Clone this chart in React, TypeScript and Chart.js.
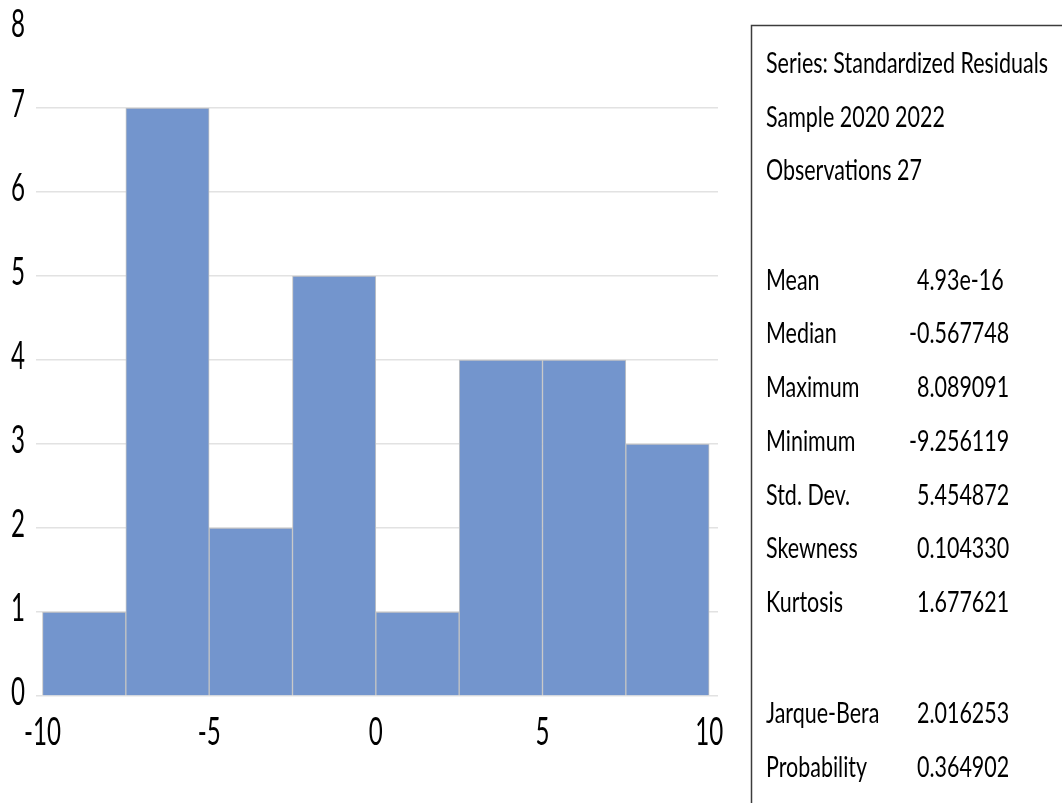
import React, { useEffect, useRef } from "react";
import { Chart, registerables } from "chart.js";

Chart.register(...registerables);

// Histogram bins (centres of 2.5-wide bins) and counts
const binCenters = [-8.75, -6.25, -3.75, -1.25, 1.25, 3.75, 6.25, 8.75];
const binCounts = [1, 7, 2, 5, 1, 4, 4, 3];
const xTickValues = [-10, -5, 0, 5, 10];
const yTickValues = [0, 1, 2, 3, 4, 5, 6, 7, 8];

// Statistics panel
const headerLines = ["Series: Standardized Residuals", "Sample 2020 2022", "Observations 27"];
const statLabels = ["Mean", "Median", "Maximum", "Minimum", "Std. Dev.", "Skewness", "Kurtosis"];
const statValues = ["4.93e-16", "-0.567748", "8.089091", "-9.256119", "5.454872", "0.104330", "1.677621"];
const testLabels = ["Jarque-Bera", "Probability"];
const testValues = ["2.016253", "0.364902"];

const FONT = "Lato, 'Open Sans', sans-serif";

function drawCond(
  ctx: CanvasRenderingContext2D,
  text: string,
  x: number,
  y: number,
  size: number,
  align: CanvasTextAlign,
  sx: number
) {
  ctx.save();
  ctx.font = `${size}px ${FONT}`;
  ctx.fillStyle = "#000";
  ctx.translate(x, y);
  ctx.scale(sx, 1);
  ctx.textAlign = align;
  ctx.textBaseline = "alphabetic";
  ctx.fillText(text, 0, 0);
  ctx.restore();
}

function drawValue(ctx: CanvasRenderingContext2D, v: string, x: number, y: number, size: number, sx: number) {
  if (v.startsWith("-")) {
    drawCond(ctx, "-", x, y, size, "right", sx);
    drawCond(ctx, v.slice(1), x, y, size, "left", sx);
  } else {
    drawCond(ctx, v, x, y, size, "left", sx);
  }
}

const textPlugin = {
  id: "textPlugin",
  afterDraw(chart: any) {
    const ctx: CanvasRenderingContext2D = chart.ctx;
    const xs = chart.scales.x;
    const ys = chart.scales.y;

    // tick labels
    const tickSize = 38;
    ctx.save();
    ctx.font = `${tickSize}px ${FONT}`;
    const tsx = 37 / ctx.measureText("-10").width;
    ctx.restore();
    yTickValues.forEach((v) => {
      const py = ys.getPixelForValue(v);
      drawCond(ctx, String(v), 18, Math.max(py + 9, 37), tickSize, "center", tsx);
    });
    xTickValues.forEach((v) => {
      const px = xs.getPixelForValue(v);
      drawCond(ctx, String(v), px, 745, tickSize, "center", tsx);
    });

    // stats box
    ctx.save();
    ctx.strokeStyle = "#3c3c3c";
    ctx.lineWidth = 1.5;
    ctx.strokeRect(751.5, 25.5, 400, 900);
    ctx.restore();

    const size = 29;
    ctx.save();
    ctx.font = `${size}px ${FONT}`;
    const ssx = 282 / ctx.measureText(headerLines[0]).width;
    ctx.restore();
    const headerBase = [73, 127, 180];
    headerLines.forEach((t, i) => drawCond(ctx, t, 766, headerBase[i], size, "left", ssx));
    const statBase = [290, 343, 397, 451, 505, 558, 612];
    statLabels.forEach((t, i) => {
      drawCond(ctx, t, 766, statBase[i], size, "left", ssx);
      drawValue(ctx, statValues[i], 917, statBase[i], size, ssx);
    });
    const testBase = [723, 777];
    testLabels.forEach((t, i) => {
      drawCond(ctx, t, 766, testBase[i], size, "left", ssx);
      drawValue(ctx, testValues[i], 917, testBase[i], size, ssx);
    });
  },
};

export default function App() {
  const ref = useRef<HTMLCanvasElement | null>(null);

  useEffect(() => {
    document.body.style.margin = "0";
    if (!ref.current) return;
    const chart = new Chart(ref.current, {
      type: "bar",
      data: {
        datasets: [
          {
            data: binCenters.map((c, i) => ({ x: c, y: binCounts[i] })),
            backgroundColor: "#7395cd",
            borderColor: "#c4c4c4",
            borderWidth: 1,
            barPercentage: 1,
            categoryPercentage: 1,
          },
        ],
      },
      options: {
        animation: false,
        responsive: true,
        maintainAspectRatio: false,
        layout: { padding: { left: 36, right: 344, top: 24, bottom: 107 } },
        plugins: { legend: { display: false }, tooltip: { enabled: false } },
        scales: {
          x: {
            type: "linear",
            min: -10.195,
            max: 10.265,
            offset: false,
            display: false,
          },
          y: {
            min: 0,
            max: 8,
            ticks: { stepSize: 1, display: false },
            border: { display: false },
            grid: {
              drawTicks: false,
              lineWidth: 1.5,
              color: (c: any) => (c.tick && c.tick.value === 8 ? "rgba(0,0,0,0)" : "#e2e2e2"),
            },
          },
        },
      },
      plugins: [textPlugin],
    });
    return () => chart.destroy();
  }, []);

  return (
    <div style={{ width: 1062, height: 803, position: "relative", background: "#fff" }}>
      <canvas ref={ref} />
    </div>
  );
}
